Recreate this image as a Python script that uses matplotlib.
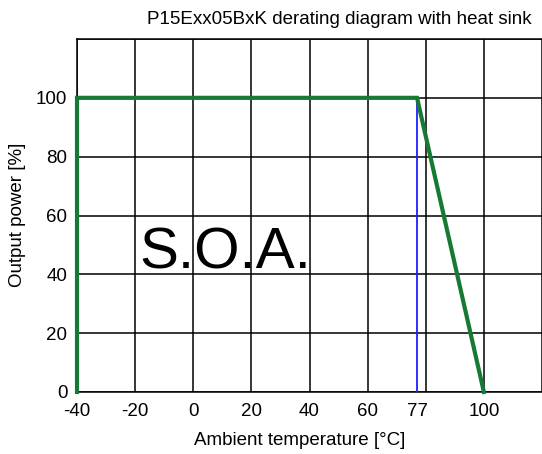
import matplotlib
matplotlib.use("Agg")
import matplotlib.pyplot as plt

plt.rcParams["font.family"] = ["Liberation Sans", "DejaVu Sans"]

# derating curve
temp = [-40, -40, 77, 100]
power = [0, 100, 100, 0]
# marker line for 77 °C
mark_x = [77, 77]
mark_y = [0, 100]

xtick_vals = [-40, -20, 0, 20, 40, 60, 77, 100]
xtick_labels = ["-40", "-20", "0", "20", "40", "60", "77", "100"]
xgrid_vals = [-40, -20, 0, 20, 40, 60, 80, 100, 120]
ytick_vals = [0, 20, 40, 60, 80, 100]
ygrid_vals = [0, 20, 40, 60, 80, 100, 120]

fig = plt.figure(figsize=(5.42, 4.54), dpi=100)
ax = fig.add_axes([77 / 542, 1 - 392 / 454, 1 - 77 / 542, (392 - 39) / 454])

ax.set_xlim(-40, 117)
ax.set_ylim(0, 120)

ax.xaxis.remove_overlapping_locs = False
ax.yaxis.remove_overlapping_locs = False
ax.set_xticks(xtick_vals)
ax.set_xticklabels(xtick_labels)
ax.set_xticks(xgrid_vals, minor=True)
ax.set_yticks(ytick_vals)
ax.set_yticks(ygrid_vals, minor=True)
ax.tick_params(which="both", length=0, labelsize=13.5, colors="black")
ax.tick_params(axis="x", pad=8)
ax.tick_params(axis="y", pad=7)
ax.grid(which="minor", color="black", linewidth=1.1)
ax.grid(which="major", visible=False)

for s in ["left", "bottom", "top"]:
    ax.spines[s].set_color("black")
    ax.spines[s].set_linewidth(1.1)
ax.spines["right"].set_visible(False)

ax.plot(mark_x, mark_y, color="#1f1fff", linewidth=1.3, zorder=3)
ax.plot(temp, power, color="#177a34", linewidth=3.0, zorder=4, clip_on=False,
        solid_joinstyle="miter")

ax.text(-18.5, 42, "S.O.A.", fontsize=42, ha="left", va="baseline", zorder=5)

fig.text(339 / 542, 1 - 24 / 454, "P15Exx05BxK derating diagram with heat sink",
         fontsize=13.5, ha="center", va="baseline")
fig.text(300 / 542, 1 - 445 / 454, "Ambient temperature [°C]",
         fontsize=13.5, ha="center", va="baseline")
fig.text(18 / 542, 1 - 215 / 454, "Output power [%]",
         fontsize=13.5, ha="center", va="center", rotation=90)

fig.savefig("out.png", dpi=100)
